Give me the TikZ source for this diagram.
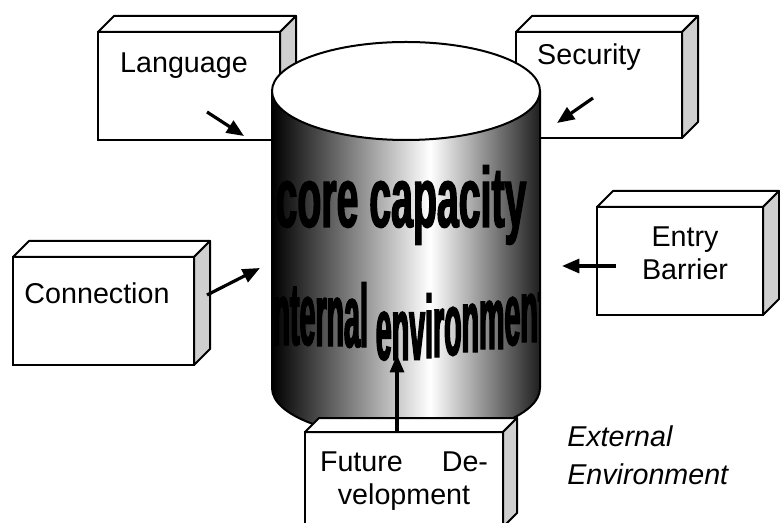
\documentclass[tikz,border=0pt]{standalone}
\usepackage{fontspec}
\setmainfont{Liberation Sans}
\newfontfamily\cylfontA[FakeStretch=0.46, FakeBold=1.5]{Liberation Sans}
\newfontfamily\cylfontB[FakeStretch=0.32, FakeBold=1.5]{Liberation Sans}
\usetikzlibrary{arrows.meta,fit}
\pgfdeclarehorizontalshading{cylshade}{100bp}{color(0bp)=(black); color(25bp)=(black); color(54.5bp)=(white); color(75bp)=(black!88); color(100bp)=(black!88)}
\newcommand\lw[2]{\raisebox{-#1pt}{#2}}
\newcommand\cuboid[4]{%
  \coordinate (#1-nw) at #2;
  \coordinate (#1-se) at #3;
  \node[face, fit=(#1-nw)(#1-se)] (#1) {};
  \draw[topface] (#1.north west) -- ++(#4,-#4) -- ([shift={(#4,-#4)}]#1.north east) -- (#1.north east) -- cycle;
  \draw[sideface] (#1.north east) -- ++(#4,-#4) -- ([shift={(#4,-#4)}]#1.south east) -- (#1.south east) -- cycle;
}
\begin{document}
\begin{tikzpicture}[x=0.75pt,y=-0.75pt,
  face/.style={draw=black, line width=1.5pt, fill=white, inner sep=0pt, outer sep=0pt},
  topface/.style={draw=black, line width=1.5pt, fill=white, line join=round},
  sideface/.style={draw=black, line width=1.5pt, fill=black!19, line join=round},
  lbl/.style={font=\fontsize{21.5}{25}\selectfont, align=center, inner sep=0pt},
  bigtxt/.style={inner sep=0pt, anchor=base},
  arr/.style={line width=2.4pt, -{Triangle[length=13pt,width=10.5pt]}}]
\useasboundingbox (0,0) rectangle (780,523);

% boxes behind the cylinder
\cuboid{lang}{(98,32)}{(280,140)}{16}
\cuboid{sec}{(516,32)}{(682,138)}{16}
\node[lbl] (langt) at (184,66) {Language};
\node[lbl] (sect) at (589,57) {Security};

% cylinder
\coordinate (cyl) at (406,91);
\begin{scope}
  \clip (272,91) -- (272,388) arc[start angle=180, end angle=0, x radius=134, y radius=50] -- (540,91) -- cycle;
  \shade[shading=cylshade] (272,30) rectangle (540,450);
  \node[bigtxt] (core) at (401,227) {\cylfontA\bfseries\fontsize{64}{64}\selectfont core capacity};
  \node[bigtxt] (inner) at (406,345) {\cylfontB\bfseries\fontsize{67}{67}\selectfont
    \lw{-3}{i}\lw{0}{n}\lw{0}{t}\lw{0}{e}\lw{0.75}{r}\lw{0.75}{n}\lw{1.5}{a}\lw{1.5}{l} %
    \lw{11}{e}\lw{11.25}{n}\lw{11}{v}\lw{9.75}{i}\lw{9}{r}\lw{7.5}{o}\lw{5.25}{n}\lw{3}{m}\lw{0}{e}\lw{-2.25}{n}\lw{-3.75}{t}};
\end{scope}
\draw[line width=1.5pt] (272,91) -- (272,388) arc[start angle=180, end angle=0, x radius=134, y radius=50] -- (540,91);
\draw[line width=1.5pt, fill=white] (cyl) ellipse[x radius=134, y radius=49];

% other boxes
\cuboid{conn}{(13,257)}{(194,365)}{16}
\cuboid{entry}{(597,207)}{(763,315)}{16}
\cuboid{fut}{(305,432)}{(503,527)}{14}
\node[lbl] (connt) at (97,293) {Connection};
\node[lbl] (entryt) at (685,253) {Entry\\Barrier};
\node[lbl, text width=126pt] (futt) at (404,481) {Future\hfill De-\\velopment};
\node[lbl, align=left, anchor=west, font=\fontsize{21.5}{28.5}\selectfont\itshape] (ext) at (567,455) {External\\Environment};

% arrows
\coordinate (la) at (207,112); \coordinate (lb) at (244,136);
\coordinate (sa) at (593,98);  \coordinate (sb) at (557,123);
\coordinate (ca) at (207,295); \coordinate (cb) at (260,268);
\coordinate (ea) at (616,266); \coordinate (eb) at (562,266);
\coordinate (fa) at (397,432); \coordinate (fb) at (397,355);
\draw[arr] (la) -- (lb);
\draw[arr] (sa) -- (sb);
\draw[arr] (ca) -- (cb);
\draw[arr] (ea) -- (eb);
\draw[arr] (fa) -- (fb);
\end{tikzpicture}
\end{document}
